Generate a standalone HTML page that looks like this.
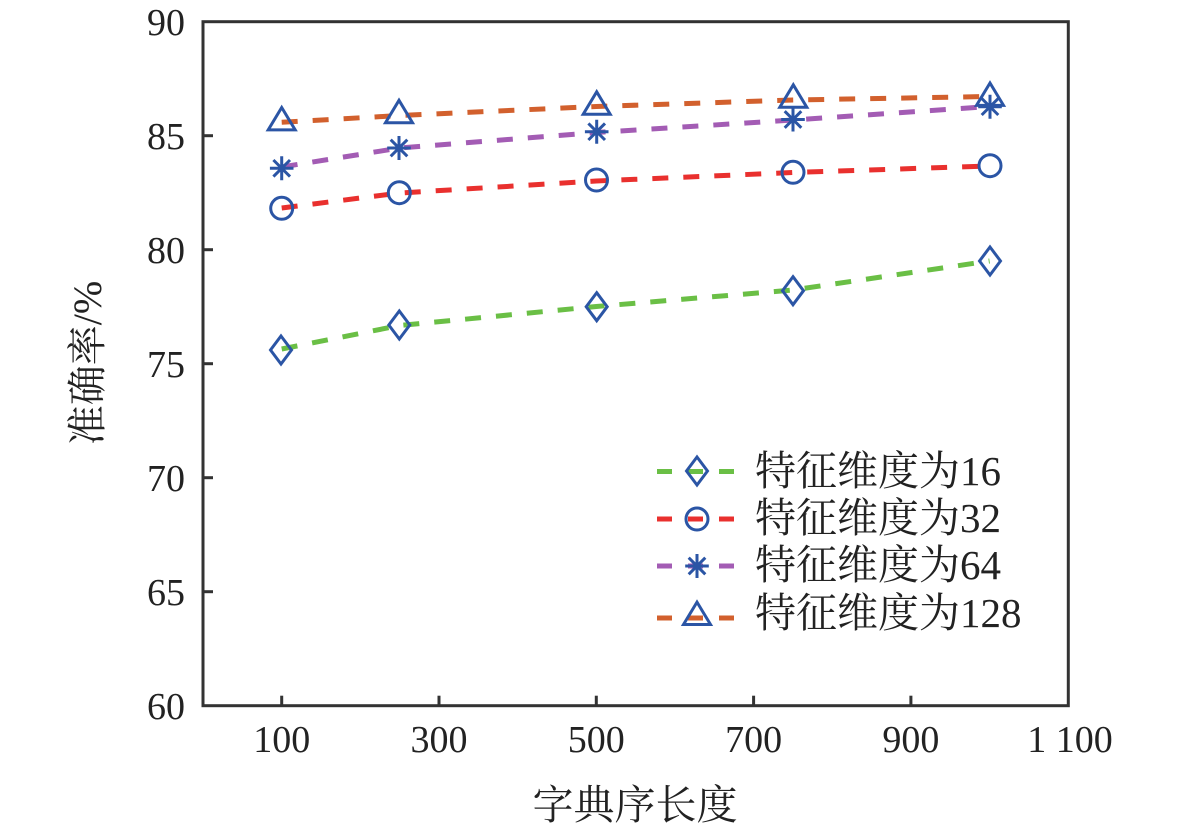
<!DOCTYPE html>
<html>
<head>
<meta charset="utf-8">
<style>
  html,body{margin:0;padding:0;background:#fff;}
  svg{display:block;}
  text{font-family:"Liberation Serif","Noto Serif CJK SC",serif;fill:#222;}
</style>
</head>
<body>
<svg width="1181" height="830" viewBox="0 0 1181 830" xmlns="http://www.w3.org/2000/svg">
  <rect x="0" y="0" width="1181" height="830" fill="#fff"/>

  <!-- series lines -->
  <g fill="none" stroke-width="5" stroke-dasharray="16 15" stroke-linecap="butt">
    <polyline stroke="#d2602d" points="281.7,122.3 399.7,115.5 596.3,106.5 793,100 989.6,96.5"/>
    <polyline stroke="#a35cb4" points="281.7,167 399.7,148 596.3,132.5 793,120 989.6,106.5"/>
    <polyline stroke="#e9302e" points="281.7,208 399.7,193 596.3,181 793,172.5 989.6,166"/>
    <polyline stroke="#6abf45" points="281.7,349 399.7,325.5 596.3,306.5 793,290 989.6,261"/>
  </g>

  <!-- markers -->
  <g fill="none" stroke="#2b55a5" stroke-width="3">
    <polygon points="281.7,107.5 268.2,129.9 295.2,129.9"/>
    <polygon points="399,100.3 385.5,122.7 412.5,122.7"/>
    <polygon points="596.7,91.8 583.2,114.2 610.2,114.2"/>
    <polygon points="793.3,84.8 779.8,107.2 806.8,107.2"/>
    <polygon points="990,83 976.5,105.4 1003.5,105.4"/>
    <circle cx="281.7" cy="208.3" r="11"/>
    <circle cx="399.3" cy="192.7" r="11"/>
    <circle cx="596.5" cy="180" r="11"/>
    <circle cx="793" cy="172.3" r="11"/>
    <circle cx="990" cy="165.7" r="11"/>
    <polygon points="281,336 291.5,350 281,364 270.5,350"/>
    <polygon points="399.3,311 409.8,325 399.3,339 388.8,325"/>
    <polygon points="596.7,292.7 607.2,306.7 596.7,320.7 586.2,306.7"/>
    <polygon points="793,276.7 803.5,290.7 793,304.7 782.5,290.7"/>
    <polygon points="990,247 1000.5,261 990,275 979.5,261"/>
  </g>
  <g stroke="#2b55a5" stroke-width="3" fill="none">
    <path d="M281.7,156.3v24 M269.9,168.3h23.6 M273.4,160 l16.6,16.6 M273.4,176.6 l16.6,-16.6"/>
    <path d="M399,136v24 M387.2,148h23.6 M390.7,139.7 l16.6,16.6 M390.7,156.3 l16.6,-16.6"/>
    <path d="M596.7,119.7v24 M584.9,131.7h23.6 M588.4,123.4 l16.6,16.6 M588.4,140 l16.6,-16.6"/>
    <path d="M793,107.5v24 M781.2,119.5h23.6 M784.7,111.2 l16.6,16.6 M784.7,127.8 l16.6,-16.6"/>
    <path d="M990,94.7v24 M978.2,106.7h23.6 M981.7,98.4 l16.6,16.6 M981.7,115 l16.6,-16.6"/>
  </g>

  <!-- axes box -->
  <rect x="203" y="21.7" width="865.3" height="684" fill="none" stroke="#333" stroke-width="3"/>
  <g stroke="#333" stroke-width="3">
    <line x1="203" y1="591.7" x2="213" y2="591.7"/>
    <line x1="203" y1="477.7" x2="213" y2="477.7"/>
    <line x1="203" y1="363.7" x2="213" y2="363.7"/>
    <line x1="203" y1="249.7" x2="213" y2="249.7"/>
    <line x1="203" y1="135.7" x2="213" y2="135.7"/>
    <line x1="281.7" y1="705.7" x2="281.7" y2="695.7"/>
    <line x1="439" y1="705.7" x2="439" y2="695.7"/>
    <line x1="596.3" y1="705.7" x2="596.3" y2="695.7"/>
    <line x1="753.6" y1="705.7" x2="753.6" y2="695.7"/>
    <line x1="910.9" y1="705.7" x2="910.9" y2="695.7"/>
  </g>

  <g font-size="38" text-anchor="end">
    <text x="185" y="719.2">60</text>
    <text x="185" y="605.2">65</text>
    <text x="185" y="491.2">70</text>
    <text x="185" y="377.2">75</text>
    <text x="185" y="263.2">80</text>
    <text x="185" y="149.2">85</text>
    <text x="185" y="35.2">90</text>
  </g>
  <g font-size="38" text-anchor="middle">
    <text x="281.7" y="752">100</text>
    <text x="439" y="752">300</text>
    <text x="596.3" y="752">500</text>
    <text x="753.6" y="752">700</text>
    <text x="910.9" y="752">900</text>
    <text x="1070" y="752">1 100</text>
  </g>

  <text x="635" y="819" font-size="41" text-anchor="middle">字典序长度</text>
  <text transform="translate(101,363) rotate(-90)" font-size="40" text-anchor="middle">准确率/%</text>

  <!-- legend -->
  <g fill="none" stroke-width="5" stroke-dasharray="15 16">
    <line x1="657" y1="471.5" x2="737" y2="471.5" stroke="#6abf45"/>
    <line x1="657" y1="519" x2="737" y2="519" stroke="#e9302e"/>
    <line x1="657" y1="566" x2="737" y2="566" stroke="#a35cb4"/>
    <line x1="657" y1="618" x2="737" y2="618" stroke="#d2602d"/>
  </g>
  <g fill="none" stroke="#2b55a5" stroke-width="3">
    <polygon points="697,457 707.5,471 697,485 686.5,471"/>
    <circle cx="697" cy="519" r="11"/>
    <path d="M697,554v24 M685.2,566h23.6 M688.7,557.7 l16.6,16.6 M688.7,574.3 l16.6,-16.6"/>
    <polygon points="697,602.1 683.5,624.5 710.5,624.5"/>
  </g>
  <g font-size="41">
    <text x="755" y="485">特征维度为16</text>
    <text x="755" y="532">特征维度为32</text>
    <text x="755" y="579">特征维度为64</text>
    <text x="755" y="627">特征维度为128</text>
  </g>
</svg>
</body>
</html>
